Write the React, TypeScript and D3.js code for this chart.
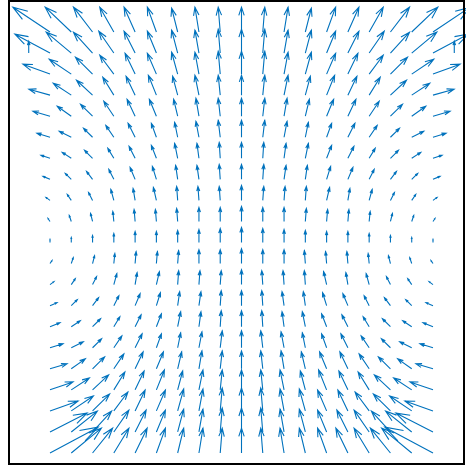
import React from 'react';
import * as d3 from 'd3';

// grid positions (data units), 19 columns x 21 rows
const xs = [-9, -8, -7, -6, -5, -4, -3, -2, -1, 0, 1, 2, 3, 4, 5, 6, 7, 8, 9];
const ys = [10, 9, 8, 7, 6, 5, 4, 3, 2, 1, 0, -1, -2, -3, -4, -5, -6, -7, -8, -9, -10];

// left half of the field (x = -9 .. 0), one row per y.
// right half is the mirror: u flips sign, v stays.
const uHalf = [
  [-37, -26, -19, -14, -11, -9, -6, -4, -2, 0],
  [-35, -25, -19, -15, -11, -9, -6, -4, -2, 0],
  [-27, -22, -17, -14, -10, -9, -6, -4, -2, 0],
  [-21, -18, -16, -11, -9, -8, -5, -4, -2, 0],
  [-17, -14, -12, -10, -8, -7, -4, -3, -2, 0],
  [-13, -12, -9, -8, -7, -5, -3, -3, -2, 0],
  [-9, -9, -8, -6, -6, -5, -3, -2, -1, 0],
  [-7, -6, -6, -5, -5, -4, -2, -2, -1, 0],
  [-4, -4, -4, -3, -2, -3, -1, -1, -1, 0],
  [-2, -2, -2, -1, -1, -1, -1, 0, 0, 0],
  [0, 0, 0, 0, 0, 0, 0, 0, 0, 0],
  [2, 2, 2, 1, 1, 1, 1, 0, 0, 0],
  [4, 4, 4, 3, 2, 3, 1, 1, 1, 0],
  [7, 6, 6, 5, 5, 4, 2, 2, 1, 0],
  [10, 9, 8, 6, 6, 5, 3, 2, 1, 0],
  [13, 12, 9, 8, 7, 5, 3, 3, 2, 0],
  [17, 14, 12, 10, 8, 7, 4, 3, 2, 0],
  [23, 18, 16, 11, 9, 8, 5, 4, 2, 0],
  [28, 22, 17, 14, 10, 9, 6, 4, 2, 0],
  [37, 26, 19, 15, 11, 9, 6, 4, 2, 0],
  [48, 30, 20, 15, 12, 9, 6, 4, 2, 0],
];

const vHalf = [
  [25, 25, 25, 25, 25, 25, 24, 25, 25, 25],
  [19, 21, 21, 22, 22, 22, 23, 23, 24, 24],
  [10, 15, 17, 19, 21, 21, 22, 22, 23, 23],
  [6, 12, 15, 18, 19, 20, 19, 20, 20, 20],
  [5, 10, 12, 15, 17, 17, 17, 18, 18, 18],
  [4, 6, 9, 12, 14, 14, 15, 16, 17, 17],
  [3, 6, 8, 10, 12, 13, 15, 15, 16, 16],
  [3, 6, 8, 10, 12, 13, 14, 14, 15, 15],
  [3, 6, 8, 11, 12, 13, 14, 14, 14, 15],
  [3, 6, 8, 10, 12, 12, 13, 14, 14, 15],
  [3, 5, 7, 9, 11, 11, 12, 13, 14, 15],
  [3, 6, 8, 10, 12, 12, 13, 14, 14, 15],
  [3, 6, 8, 11, 12, 13, 14, 14, 14, 15],
  [3, 6, 8, 10, 12, 13, 14, 14, 15, 15],
  [4, 6, 8, 10, 12, 13, 15, 15, 16, 16],
  [4, 6, 9, 12, 14, 14, 15, 16, 17, 17],
  [5, 10, 12, 15, 17, 17, 17, 18, 18, 18],
  [8, 12, 15, 18, 19, 20, 19, 20, 20, 20],
  [10, 15, 17, 19, 21, 21, 22, 22, 23, 23],
  [19, 21, 21, 22, 22, 22, 23, 23, 24, 24],
  [26, 25, 25, 25, 25, 25, 25, 25, 25, 25],
];

// two stray short arrows just outside the grid
const extraX = [-10, 10];
const extraY = [9, 9];
const extraU = [0, 0];
const extraV = [12, 12];

const W = 466;
const H = 465;
const blue = '#0072BD';
const arrowScale = 1 / 21.2; // field units -> grid steps

const xScale = d3.scaleLinear().domain([-9, 9]).range([50, 433]);
const yScale = d3.scaleLinear().domain([-10, 10]).range([453, 32]);

const arrowPath = (x: number, y: number, u: number, v: number) => {
  const x0 = xScale(x);
  const y0 = yScale(y);
  const x1 = xScale(x + u * arrowScale);
  const y1 = yScale(y + v * arrowScale);
  const du = x1 - x0;
  const dv = y1 - y0;
  const a = 0.33, b = 0.33;
  const h1x = x1 - a * (du + b * dv);
  const h1y = y1 - a * (dv - b * du);
  const h2x = x1 - a * (du - b * dv);
  const h2y = y1 - a * (dv + b * du);
  return `M${x0},${y0}L${x1},${y1}M${h1x},${h1y}L${x1},${y1}L${h2x},${h2y}`;
};

const App = () => {
  const arrows: { x: number; y: number; u: number; v: number }[] = [];
  ys.forEach((y, r) => {
    xs.forEach((x, c) => {
      const k = c <= 9 ? c : 18 - c;
      const sign = c <= 9 ? 1 : -1;
      arrows.push({ x, y, u: sign * uHalf[r][k], v: vHalf[r][k] });
    });
  });
  extraX.forEach((x, i) => arrows.push({ x, y: extraY[i], u: extraU[i], v: extraV[i] }));

  return (
    <svg width={W} height={H} style={{ position: 'absolute', left: 0, top: 0, background: '#fff' }}>
      <g fill="none" stroke={blue} strokeWidth={1.1}>
        {arrows.map((d, i) => (
          <path key={i} d={arrowPath(d.x, d.y, d.u, d.v)} />
        ))}
      </g>
      <rect x={9} y={1} width={455} height={463} fill="none" stroke="#000" strokeWidth={2} />
    </svg>
  );
};

export default App;
